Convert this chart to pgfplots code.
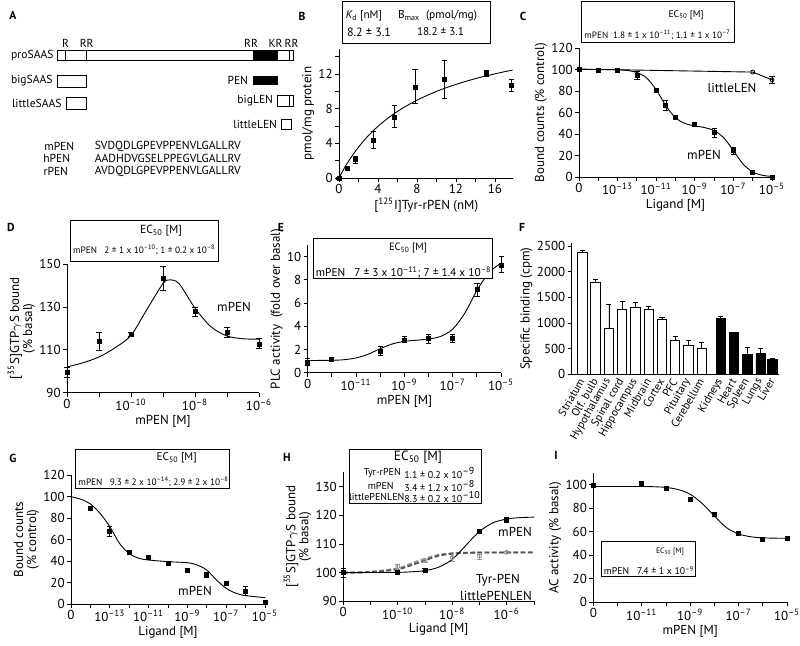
\documentclass[border=0pt]{standalone}
\usepackage{fontspec}
\setmainfont{PT Sans}
\usepackage{graphicx}
\usepackage{pgfplots}
\pgfplotsset{compat=1.18}
\newcommand\fs[1]{\fontsize{#1}{#1}\selectfont}
\newcommand\dec[1]{10\textsuperscript{–#1}}
\newcommand\rw[2]{\resizebox{#1}{!}{#2}}
\definecolor{g1}{RGB}{85,85,85}
\definecolor{g2}{RGB}{150,150,150}
\pgfplotsset{
 pan/.style={scale only axis, anchor=south west, axis lines*=left,
   axis line style={line width=0.45pt,-},
   every tick/.style={black,line width=0.45pt},
   tick align=outside, major tick length=2pt, minor tick length=2pt,
   tick label style={font=\fs{6.5}},
   label style={font=\fs{6.5}},
   xticklabel style={inner sep=1pt}, yticklabel style={inner sep=1pt},
   /pgf/number format/assume math mode=true, /pgf/number format/1000 sep={},
   scaled ticks=false, clip=false,
   xlabel style={inner sep=1pt}, ylabel style={inner sep=1pt, align=center}},
 sq/.style={only marks, mark=square*, mark size=1pt, mark options={black, fill=black},
   error bars/y dir=both, error bars/y explicit,
   error bars/error bar style={black, line width=0.35pt},
   error bars/error mark options={rotate=90, black, line width=0.35pt, mark size=1.3pt}},
 oc/.style={mark=o, mark size=1pt, mark options={fill=white, solid, line width=0.4pt},
   error bars/y dir=both, error bars/y explicit,
   error bars/error bar style={line width=0.35pt, solid},
   error bars/error mark options={rotate=90, line width=0.35pt, mark size=1.3pt, solid}},
 fitl/.style={black, line width=0.45pt, no marks, smooth},
 barerr/.style={error bars/y dir=plus, error bars/y explicit,
   error bars/error bar style={black, line width=0.35pt},
   error bars/error mark options={rotate=90, black, line width=0.35pt, mark size=1.3pt}},
}
\begin{document}
\begin{tikzpicture}
\path[use as bounding box] (0pt,0pt) rectangle (400pt,322.5pt);

% ---------------- Panel B ----------------
\begin{axis}[pan, at={(169.5pt,233.5pt)}, width=87.25pt, height=64.5pt,
  xmin=0, xmax=17.9, ymin=0, ymax=14.9,
  xtick={0,4,8,12,16}, ytick={0,4,8,12}, minor xtick={2,6,10,14}, minor ytick={2,6,10,14},
  xlabel={[\textsuperscript{125}I]Tyr-rPEN (nM)}, ylabel={pmol/mg protein}]
\addplot[fitl] coordinates {(0,0) (0.5,1.05) (1,1.98) (2,3.57) (3,4.88) (4,5.97) (5,6.89) (6,7.69) (7,8.38) (8,8.99) (9,9.52) (10,10.0) (11,10.43) (12,10.81) (13,11.16) (14,11.48) (15,11.77) (16,12.03) (17,12.28) (17.8,12.46)};
\addplot[sq] coordinates {
 (0,0) +- (0,0.1)
 (0.85,1.15) +- (0,0.15)
 (1.7,2.1) += (0,0.4) -= (0,0.35)
 (3.5,4.4) += (0,1.0) -= (0,1.0)
 (5.7,7.0) += (0,1.4) -= (0,1.2)
 (7.8,10.5) += (0,2.1) -= (0,1.9)
 (10.8,11.35) += (0,2.25) -= (0,2.2)
 (15.15,12.04) += (0,0.35) -= (0,0.35)
 (17.7,10.7) += (0,0.7) -= (0,0.7)};
\end{axis}

% ---------------- Panel C ----------------
\begin{axis}[pan, at={(289.5pt,234pt)}, width=96.5pt, height=64.5pt,
  xmin=-15, xmax=-5, ymin=0, ymax=120, ytick={0,20,...,120},
  xtick={-15,-14,...,-5}, xticklabels={0,,\dec{13},,\dec{11},,\dec{9},,\dec{7},,\dec{5}},
  xlabel={Ligand [M]}, ylabel={Bound counts (\% control)}]
\addplot[black, line width=0.45pt, oc] coordinates {(-15,100.4) (-6,97.6) (-5,90.4) += (0,3) -= (0,3)};
\addplot[fitl] coordinates {(-15,100) (-14,99.97) (-13,99.7) (-12.5,99.1) (-12,97.2) (-11.5,92.2) (-11,81.2) (-10.5,66.3) (-10,55.1) (-9.5,49.7) (-9,47.6) (-8.5,46.0) (-8,43.2) (-7.5,36.5) (-7,24.6) (-6.5,12.1) (-6,4.7) (-5.5,1.6) (-5,0.5)};
\addplot[sq] coordinates {
 (-15,100.4) (-14,99) (-13,99) (-12,94.1) += (0,4) -= (0,3.7)
 (-11,81) (-10.5,66.7) += (0,5) -= (0,4.4) (-10,55.5) (-9,48.6)
 (-8,41.1) += (0,4.1) -= (0,4.3) (-7,24.3) += (0,3.7) -= (0,3.1) (-6,4) (-5,0)};
\end{axis}

% ---------------- Panel D ----------------
\begin{axis}[pan, at={(33.5pt,126.15pt)}, width=96pt, height=64.2pt,
  xmin=-12, xmax=-6, ymin=90, ymax=150, ytick={90,110,130,150},
  xtick={-12,...,-6}, xticklabels={0,,\dec{10},,\dec{8},,\dec{6}},
  xlabel={mPEN [M]}, ylabel={[\textsuperscript{35}S]GTP$\gamma$S bound\\(\% basal)}]
\addplot[fitl] coordinates {(-12,102) (-11.5,104) (-11,106.7) (-10.5,111) (-10,116.8) (-9.5,129) (-9,141) (-8.8,142.7) (-8.5,141) (-8,129.5) (-7.5,120.8) (-7,116.5) (-6.5,115.2) (-6,115)};
\addplot[sq] coordinates {
 (-12,99.7) +- (0,2.3) (-11,114.1) += (0,4.3) -= (0,4.3) (-10,117.3) +- (0,1)
 (-9,143.4) += (0,5.5) -= (0,5.4) (-8,127.8) +- (0,2) (-7,118.1) += (0,2.5) -= (0,2.1)
 (-6,112.8) += (0,2.5) -= (0,2.3)};
\end{axis}

% ---------------- Panel E ----------------
\begin{axis}[pan, at={(153.85pt,136.15pt)}, width=96.7pt, height=63.8pt,
  xmin=-13, xmax=-5, ymin=0, ymax=11, ytick={0,2,...,10},
  xtick={-13,...,-5}, xticklabels={0,,\dec{11},,\dec{9},,\dec{7},,\dec{5}},
  xlabel={mPEN [M]}, ylabel={PLC activity\ \ (fold over basal)}]
\addplot[fitl] coordinates {(-13,1.05) (-12,1.07) (-11.5,1.12) (-11,1.27) (-10.5,1.59) (-10,2.07) (-9.5,2.48) (-9,2.7) (-8.5,2.8) (-8,2.9) (-7.5,3.13) (-7,3.76) (-6.5,5.14) (-6,7.1) (-5.5,8.64) (-5,9.45)};
\addplot[sq] coordinates {
 (-13,0.9) +- (0,0.3) (-12,1.15) +- (0,0.12) (-10,1.87) += (0,0.37) -= (0,0.35)
 (-9,2.82) += (0,0.28) -= (0,0.22) (-8,2.92) += (0,0.38) -= (0,0.4)
 (-7,3.0) += (0,0.3) -= (0,0.4) (-6,7.18) += (0,0.55) -= (0,0.58) (-5,9.28) += (0,0.72) -= (0,0.6)};
\end{axis}

% ---------------- Panel F ----------------
\begin{axis}[pan, at={(285.85pt,135.35pt)}, width=103.7pt, height=65.6pt,
  xmin=-0.8, xmax=14.82, ymin=0, ymax=2560, ytick={0,500,...,2500},
  xtick={0,1,2,3,4,5,6,7,8,9,10.43,11.43,12.43,13.43,14.33},
  xticklabels={Striatum,Olf. bulb,Hypothalamus,Spinal cord,Hippocampus,Midbrain,Cortex,PFC,Pituitary,Cerebellum,Kidneys,Heart,Spleen,Lungs,Liver},
  xticklabel style={rotate=60, anchor=east, font=\fs{5.6}, inner sep=0.5pt},
  xtick style={draw=none},
  ylabel={Specific binding (cpm)}]
\addplot[ybar, bar width=4.65pt, bar shift=0pt, draw=black, fill=white, line width=0.45pt, barerr] coordinates {
 (0,2370) +- (0,40) (1,1786) +- (0,65) (2,896) +- (0,461) (3,1266) +- (0,163) (4,1299) +- (0,110)
 (5,1266) +- (0,59) (6,1071) +- (0,33) (7,662) +- (0,72) (8,565) +- (0,97) (9,513) +- (0,104)};
\addplot[ybar, bar width=4.65pt, bar shift=0pt, draw=black, fill=black, line width=0.45pt, barerr] coordinates {
 (10.43,1084) +- (0,39) (11.43,812) +- (0,13) (12.43,383) +- (0,136) (13.43,409) +- (0,91) (14.33,292) +- (0,26)};
\end{axis}

% ---------------- Panel G ----------------
\begin{axis}[pan, at={(35.5pt,20.5pt)}, width=97pt, height=64.5pt,
  xmin=-15, xmax=-5, ymin=0, ymax=120, ytick={0,20,...,120},
  xtick={-15,-14,...,-5}, xticklabels={0,,\dec{13},,\dec{11},,\dec{9},,\dec{7},,\dec{5}},
  xlabel={Ligand [M]}, ylabel={Bound counts\\(\% control)}]
\addplot[fitl] coordinates {(-15,99.8) (-14.5,97.5) (-14,93) (-13.5,84.3) (-13,72) (-12.5,56.4) (-12,47) (-11.5,42.5) (-11,40.9) (-10,39.4) (-9,38.4) (-8.5,36.3) (-8,31.6) (-7.5,22.3) (-7,14.6) (-6.5,10) (-6,7.8) (-5,5.9)};
\addplot[sq] coordinates {
 (-14,89.3) +- (0,1.5) (-13,67.3) += (0,4.7) -= (0,4.7) (-12,48) (-11,43) (-10,37.7) (-9,31.6)
 (-8,26.4) += (0,3.5) -= (0,2) (-7,18.9) (-6,11.5) += (0,4.5) -= (0,3) (-5,1.2)};
\end{axis}

% ---------------- Panel H ----------------
\begin{axis}[pan, at={(171.6pt,21.85pt)}, width=95.4pt, height=64.5pt,
  xmin=-12, xmax=-5, ymin=90, ymax=135, ytick={90,100,...,130},
  xtick={-12,...,-5}, xticklabels={0,,\dec{10},,\dec{8},,\dec{6},},
  xlabel={Ligand [M]}, ylabel={[\textsuperscript{35}S]GTP$\gamma$S bound\\(\% basal)}]
\addplot[g2, line width=0.9pt, dash pattern=on 2.4pt off 1.2pt, smooth] coordinates {(-12,100) (-11,100.3) (-10,101.5) (-9.5,103.2) (-9,104.9) (-8.5,106.2) (-8,106.8) (-7,107) (-5,107.1)};
\addplot[g1, line width=0.9pt, dash pattern=on 2.4pt off 1.2pt, smooth] coordinates {(-12,100) (-11,100.2) (-10,101.2) (-9.5,102.6) (-9,104.3) (-8.5,105.9) (-8,106.6) (-7.5,106.9) (-7,107) (-5,107)};
\addplot[only marks, g2, oc] coordinates {(-12,100) +- (0,1.5) (-10,102.1) +- (0,0.8) (-9,104.2) +- (0,0.6) (-8,105.3) += (0,0.5) -= (0,1.2) (-7,105.8) += (0,0.5) -= (0,1.2) (-6,107.1) +- (0,0.4)};
\addplot[fitl] coordinates {(-12,100) (-10,100.1) (-9.5,100.3) (-9,100.7) (-8.5,101.9) (-8,104.6) (-7.5,109.5) (-7,114.4) (-6.5,117.4) (-6,118.7) (-5.5,119.2) (-5,119.35)};
\addplot[sq] coordinates {(-12,100) +- (0,1.5) (-10,100) (-9,100.9) +- (0,0.5) (-7,114.3) (-6,118.4) +- (0,0.9)};
\end{axis}

% ---------------- Panel I ----------------
\begin{axis}[pan, at={(296.65pt,21.35pt)}, width=96.9pt, height=64.6pt,
  xmin=-13, xmax=-5, ymin=0, ymax=110, ytick={0,20,...,100},
  xtick={-13,...,-5}, xticklabels={0,,\dec{11},,\dec{9},,\dec{7},,\dec{5}},
  xlabel={mPEN [M]}, ylabel={AC activity (\% basal)}]
\addplot[fitl] coordinates {(-13,98.6) (-11,98.6) (-10.5,98.4) (-10,97.8) (-9.5,96) (-9,92) (-8.5,84) (-8,73.5) (-7.5,63.5) (-7,58.2) (-6.5,55.8) (-6,54.9) (-5.5,54.6) (-5,54.5)};
\addplot[sq] coordinates {(-13,99.4) (-11,100.9) (-10,97.4) (-9,87.8) (-8,75) (-7,58.5) +- (0,1.5) (-6,53.7) (-5,54.3)};
\end{axis}

\begin{scope}[x=0.5pt, y=-0.5pt, shift={(0pt,322.5pt)}]
% ---------------- Panel A ----------------
\begin{scope}[font=\fs{5.8}, line width=0.45pt]
\draw (57.3,50.5) rectangle (293,60.5);
\fill (252.5,50.5) rectangle (277.5,60.5);
\draw (65.7,50.5)--(65.7,60.5) (86.7,50.5)--(86.7,60.5) (289.5,50.5)--(289.5,60.5);
\node[anchor=east, inner sep=1pt] at (56,56) {proSAAS};
\node at (65.7,43.5) {R};
\node at (86.7,43.5) {RR};
\node at (251,43.5) {RR};
\node at (275.5,43.5) {KR};
\node at (291.5,43.5) {RR};
\draw (57.3,75) rectangle (86.7,87.3);
\node[anchor=east, inner sep=1pt] at (55,81) {bigSAAS};
\draw (66,97.7) rectangle (86.7,109);
\node[anchor=east, inner sep=1pt] at (64,103.5) {littleSAAS};
\fill (252.5,75.5) rectangle (277.5,85);
\node[anchor=east, inner sep=1pt] at (250.5,80) {PEN};
\draw (277.5,95) rectangle (293,106) (289.5,95)--(289.5,106);
\node[anchor=east, inner sep=1pt] at (275.5,100.5) {bigLEN};
\draw (281.7,119.3) rectangle (291,129);
\node[anchor=east, inner sep=1pt] at (279.5,124) {littleLEN};
\node at (59.3,146) {mPEN};
\node at (56.7,158.5) {hPEN};
\node at (55.8,171.5) {rPEN};
\node[anchor=west, inner sep=0pt] at (94.3,146) {\rw{73pt}{SVDQDLGPEVPPENVLGALLRV}};
\node[anchor=west, inner sep=0pt] at (94.3,158.5) {\rw{73pt}{AADHDVGSELPPEGVLGALLRV}};
\node[anchor=west, inner sep=0pt] at (94.3,171.5) {\rw{73pt}{AVDQDLGPEVPPENVLGALLRV}};
\end{scope}

% ---------------- boxes, in-plot labels, panel letters ----------------
\begin{scope}[line width=0.45pt]
% B
\draw[fill=white] (342,1.5) rectangle (490,43);
\node at (364,16) {\rw{18pt}{\itshape K\textsubscript{\upshape d}\upshape\ [nM]}};
\node at (437.5,16) {\rw{39.5pt}{B\textsubscript{max}\ \ (pmol/mg)}};
\node at (369,32) {\rw{22pt}{8.2 ± 3.1}};
\node at (440.5,32) {\rw{23.5pt}{18.2 ± 3.1}};
% C
\draw[fill=white] (581,1.5) rectangle (734,42);
\node at (686,15) {\rw{17.5pt}{EC\textsubscript{50} [M]}};
\node[anchor=west, inner sep=0pt] at (584,35) {\rw{73pt}{mPEN\ \ 1.8 ± 1 x 10\textsuperscript{–11}; 1.1 ± 1 x 10\textsuperscript{–7}}};
% D
\draw[fill=white] (70,220) rectangle (218.3,261.7);
\node at (161,230.7) {\rw{21pt}{EC\textsubscript{50} [M]}};
\node[anchor=west, inner sep=0pt] at (72.7,250) {\rw{71pt}{mPEN\ \ \ 2 ± 1 x 10\textsuperscript{–10}; 1 ± 0.2 x 10\textsuperscript{–8}}};
% E
\draw[fill=white] (313.3,238.3) rectangle (492.3,278.3);
\node at (408,248) {\rw{19pt}{EC\textsubscript{50} [M]}};
\node[anchor=west, inner sep=0pt] at (315.5,272.7) {\rw{87.5pt}{mPEN\ \ \ 7 ± 3 x 10\textsuperscript{–11}; 7 ± 1.4 x 10\textsuperscript{–8}}};
% G
\draw[fill=white] (75.7,449) rectangle (229,488.3);
\node at (176.7,458) {\rw{20pt}{EC\textsubscript{50} [M]}};
\node[anchor=west, inner sep=0pt] at (78,481.7) {\rw{75pt}{mPEN\ \ \ 9.3 ± 2 x 10\textsuperscript{–14}; 2.9 ± 2 x 10\textsuperscript{–8}}};
% H
\draw[fill=white] (349,449) rectangle (481,503);
\node at (418,457) {\rw{24pt}{EC\textsubscript{50} [M]}};
\node[font=\fs{5}] at (382.3,472.7) {Tyr-rPEN};
\node[font=\fs{5}] at (380.7,486) {mPEN};
\node[font=\fs{5}] at (376.7,497) {littlePENLEN};
\node[font=\fs{5}, anchor=west, inner sep=0pt] at (404,472.7) {1.1 ± 0.2 x 10\textsuperscript{–9}};
\node[font=\fs{5}, anchor=west, inner sep=0pt] at (404,486) {3.4 ± 1.2 x 10\textsuperscript{–8}};
\node[font=\fs{5}, anchor=west, inner sep=0pt] at (404,497) {8.3 ± 0.2 x 10\textsuperscript{–10}};
% I
\draw[fill=white] (601.7,541.7) rectangle (695.7,576.7);
\node at (670,551.7) {\rw{14pt}{EC\textsubscript{50} [M]}};
\node[anchor=west, inner sep=0pt] at (603.5,570.7) {\rw{45pt}{mPEN\ \ \ 7.4 ± 1 x 10\textsuperscript{–9}}};
\end{scope}
\begin{scope}[font=\fs{6.5}]
\node at (732,88) {littleLEN};
\node at (704,155) {mPEN};
\node at (234,306.7) {mPEN};
\node at (195,590.7) {mPEN};
\node at (515,532) {mPEN};
\node at (498,580) {Tyr-PEN};
\node at (496,596) {littlePENLEN};
\end{scope}
\begin{scope}[font=\bfseries\fs{5.8}]
\node at (13,15) {A};
\node at (302,16) {B};
\node at (523,16) {C};
\node at (11,227) {D};
\node at (281,227) {E};
\node at (522,227) {F};
\node at (13,458) {G};
\node at (287,457) {H};
\node at (556,455) {I};
\end{scope}
\end{scope}
\end{tikzpicture}
\end{document}
